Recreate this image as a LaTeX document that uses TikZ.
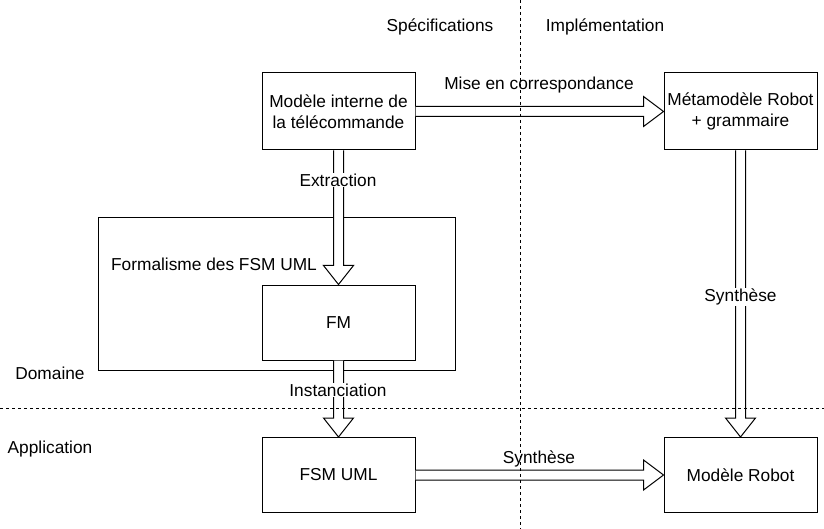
\documentclass[tikz,border=0pt]{standalone}
\usepackage{fontspec}
\setmainfont{Liberation Sans}
\usetikzlibrary{calc}
\begin{document}
\begin{tikzpicture}[x=1pt,y=-1pt,line width=1pt,
  font=\fontsize{17.3}{21}\selectfont,
  box/.style={draw, fill=white, align=center, inner sep=0pt},
  lbl/.style={fill=white, inner sep=1pt},
  txt/.style={inner sep=0pt},
  sepline/.style={line width=0.8pt, dash pattern=on 3pt off 3pt},
  barrow/.style={draw, fill=white, line width=1pt, line join=miter}]
\useasboundingbox (0,0) rectangle (824,529);
% container
\node[box, minimum width=357pt, minimum height=153pt] (dom) at (276.5,294) {};
\node[txt] (dlbl) at (214,264) {Formalisme des FSM UML};
% boxes
\node[box, minimum width=153pt, minimum height=77pt] (A) at (338.5,111.5) {Modèle interne de\\la télécommande};
\node[box, minimum width=153pt, minimum height=77pt] (B) at (740.5,111.5) {Métamodèle Robot\\+ grammaire};
\node[box, minimum width=153pt, minimum height=75pt] (FM) at (338.5,322.5) {FM};
\node[box, minimum width=153pt, minimum height=75pt] (F) at (338.5,475) {FSM UML};
\node[box, minimum width=153pt, minimum height=75pt] (R) at (740.5,475) {Modèle Robot};
% block arrows
\draw[barrow] ($(A.east)+(0,-5)$) -- ($(B.west)+(-20,-5)$) -- ($(B.west)+(-20,-15)$) -- (B.west) -- ($(B.west)+(-20,15)$) -- ($(B.west)+(-20,5)$) -- ($(A.east)+(0,5)$);
\draw[barrow] ($(F.east)+(0,-5)$) -- ($(R.west)+(-20,-5)$) -- ($(R.west)+(-20,-15)$) -- (R.west) -- ($(R.west)+(-20,15)$) -- ($(R.west)+(-20,5)$) -- ($(F.east)+(0,5)$);
\draw[barrow] ($(A.south)+(-5,0)$) -- ($(FM.north)+(-5,-19)$) -- ($(FM.north)+(-15,-19)$) -- (FM.north) -- ($(FM.north)+(15,-19)$) -- ($(FM.north)+(5,-19)$) -- ($(A.south)+(5,0)$);
\draw[barrow] ($(FM.south)+(-5,0)$) -- ($(F.north)+(-5,-19)$) -- ($(F.north)+(-15,-19)$) -- (F.north) -- ($(F.north)+(15,-19)$) -- ($(F.north)+(5,-19)$) -- ($(FM.south)+(5,0)$);
\draw[barrow] ($(B.south)+(-5,0)$) -- ($(R.north)+(-5,-19)$) -- ($(R.north)+(-15,-19)$) -- (R.north) -- ($(R.north)+(15,-19)$) -- ($(R.north)+(5,-19)$) -- ($(B.south)+(5,0)$);
% labels
\node[txt] (l1) at (539,85) {Mise en correspondance};
\node[lbl] (l2) at (338,180) {Extraction};
\node[lbl] (l3) at (338,390) {Instanciation};
\node[lbl] (l4) at (740.5,297) {Synthèse};
\node[txt] (l5) at (539,459) {Synthèse};
% region texts
\node[txt] (t1) at (440,27) {Spécifications};
\node[txt] (t2) at (605,27) {Implémentation};
\node[txt] (t3) at (50,373) {Domaine};
\node[txt] (t4) at (50,449) {Application};
% separators
\coordinate (vt) at (520,0);
\coordinate (vb) at (520,529);
\coordinate (hl) at (0,408);
\coordinate (hr) at (824,408);
\draw[sepline] (vt) -- (vb);
\draw[sepline] (hl) -- (hr);
\end{tikzpicture}
\end{document}
